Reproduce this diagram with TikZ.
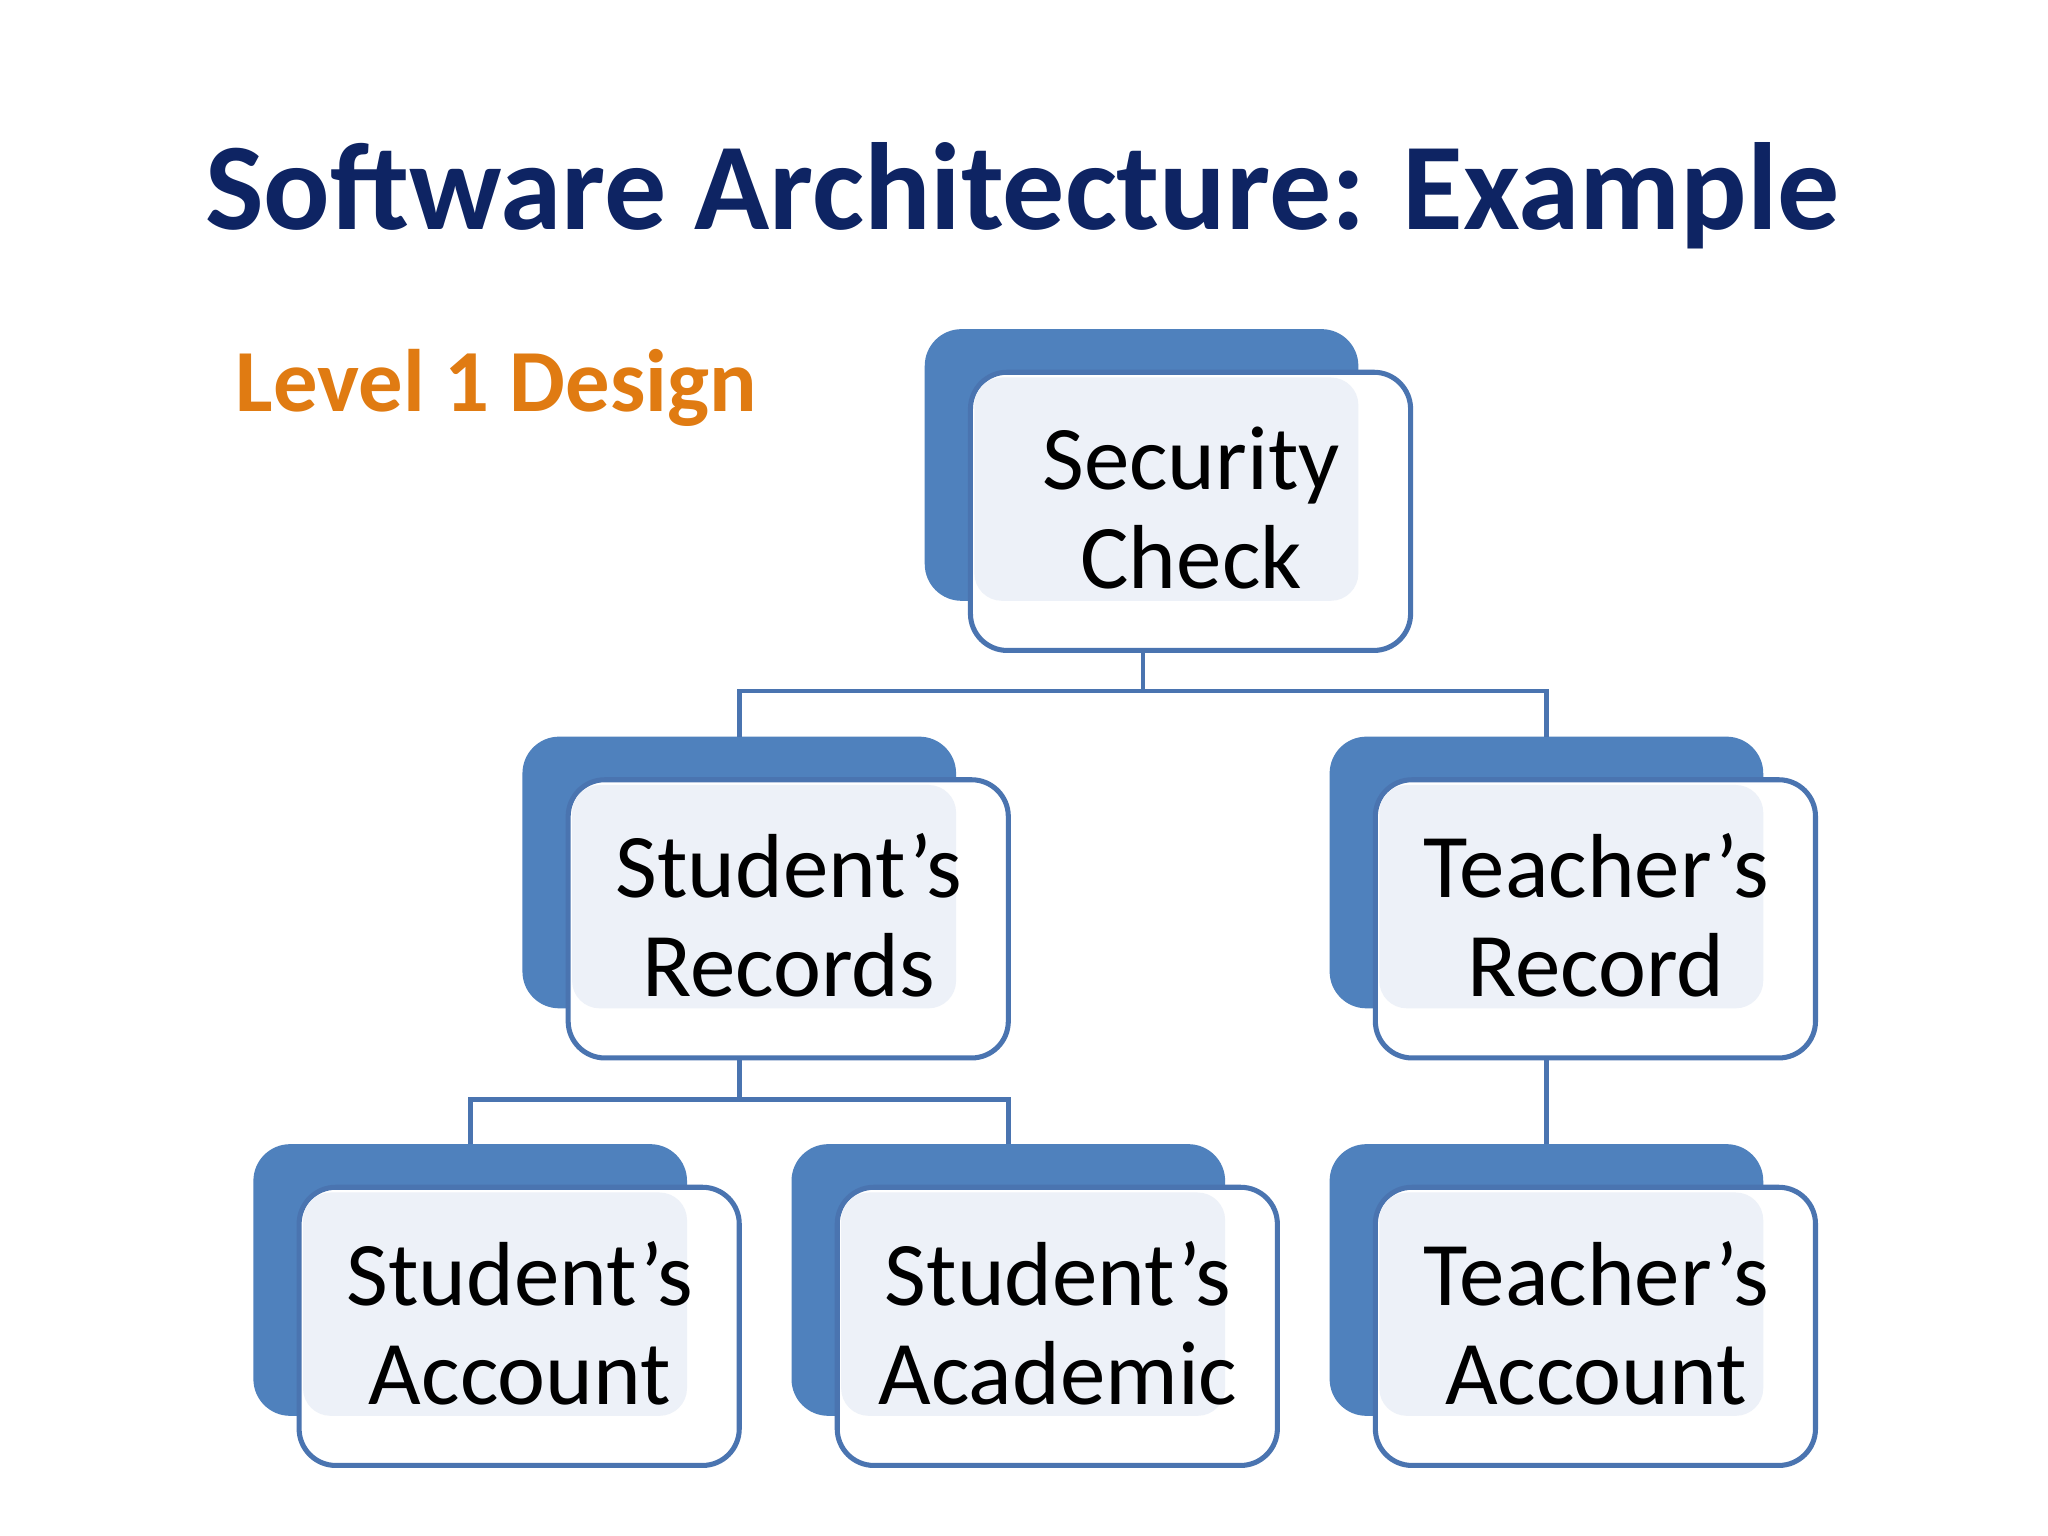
\documentclass[tikz,border=0pt]{standalone}
\usepackage{fontspec}
\setmainfont{Carlito}
\definecolor{navy}{HTML}{0E2463}
\definecolor{backblue}{HTML}{4F81BD}
\definecolor{edgeblue}{HTML}{4A74B0}
\definecolor{lightfill}{HTML}{EDF1F8}
\definecolor{lvl}{HTML}{E07B12}
\tikzset{x=0.01cm,y=-0.01cm,
 backbox/.style={fill=backblue,rounded corners=8pt},
 frontbox/.style={draw=edgeblue,line width=1.1pt,fill=white,rounded corners=8pt},
 overlap/.style={fill=lightfill,rounded corners=6pt},
 lbl/.style={font=\fontsize{19.8}{21.6}\selectfont,align=center,text=black},
 conn/.style={draw=edgeblue,line width=1pt}}
\newcommand{\mybox}[4]{% name, x, y (back top-left), text
 \fill[backbox] (#2,#3) rectangle ++(332,208);
 \draw[frontbox] (#2+35,#3+33) rectangle ++(337,213);
 \fill[overlap] (#2+38,#3+37) rectangle (#2+332,#3+208);
 \node[lbl] (#1) at (#2+204,#3+137) {#4};
}
\begin{document}
\begin{tikzpicture}
\useasboundingbox[fill=white] (0,0) rectangle (1568,1176);
\node[font=\fontsize{27}{30}\bfseries\selectfont,text=navy] (title) at (783,150) {Software Architecture: Example};
\node[font=\fontsize{19.3}{22}\bfseries\selectfont,text=lvl,anchor=west] (lvl) at (168,297) {Level 1 Design};
\mybox{sec}{708}{252}{Security\\Check}
\mybox{sr}{400}{564}{Student’s\\Records}
\mybox{tr}{1018}{564}{Teacher’s\\Record}
\mybox{sa}{194}{876}{Student’s\\Account}
\mybox{sac}{606}{876}{Student’s\\Academic}
\mybox{ta}{1018}{876}{Teacher’s\\Account}
\coordinate (j1) at (875,529);
\coordinate (j2) at (566,842);
\draw[conn] (875,498) -- (j1);
\draw[conn] (566,564) |- (j1) -| (1184,564);
\draw[conn] (566,810) -- (j2);
\draw[conn] (360,876) |- (j2) -| (772,876);
\draw[conn] (1184,810) -- (1184,876);
\end{tikzpicture}
\end{document}
